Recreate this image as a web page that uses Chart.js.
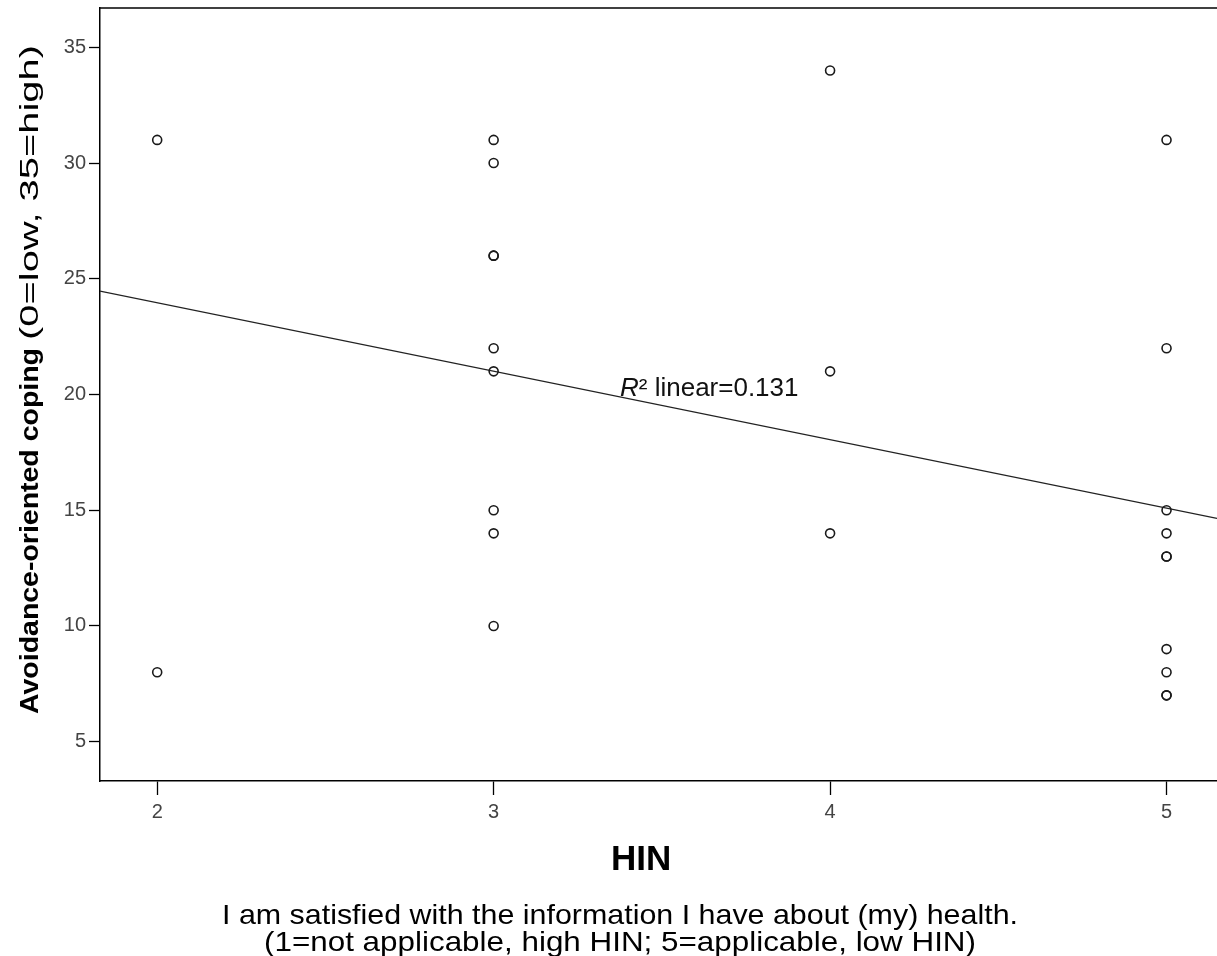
<!DOCTYPE html>
<html>
<head>
<meta charset="utf-8">
<script src="https://cdn.jsdelivr.net/npm/chart.js@4.4.1/dist/chart.umd.min.js"></script>
<style>
  html, body { margin: 0; padding: 0; background: #fff; }
  #wrap { width: 1217px; height: 956px; }
</style>
</head>
<body>
<div id="wrap"><canvas id="myChart" width="1217" height="956"></canvas></div>
<script>
const ctx = document.getElementById("myChart")

// one entry per respondent
const hin = [2, 2, 3, 3, 3, 3, 3, 3, 3, 3, 3, 4, 4, 4, 5, 5, 5, 5, 5, 5, 5, 5, 5, 5]
const coping = [31, 8, 31, 30, 26, 26, 22, 21, 15, 14, 10, 34, 21, 14, 31, 22, 15, 14, 13, 13, 9, 8, 7, 7]

const xTicks = [2, 3, 4, 5]
const yTicks = [5, 10, 15, 20, 25, 30, 35]
const xRange = [1.83, 5.15]
const yRange = [3.3, 36.7]

const FONT = "'Liberation Sans', Arial, sans-serif"

// least squares fit
const n = hin.length
const mx = hin.reduce((a, b) => a + b, 0) / n
const my = coping.reduce((a, b) => a + b, 0) / n
let sxy = 0, sxx = 0, syy = 0
for (let i = 0; i < n; i++) {
  sxy += (hin[i] - mx) * (coping[i] - my)
  sxx += (hin[i] - mx) ** 2
  syy += (coping[i] - my) ** 2
}
const slope = sxy / sxx
const intercept = my - slope * mx
const r2 = (sxy * sxy) / (sxx * syy)

const points = hin.map((x, i) => ({ x, y: coping[i] }))
const fitLine = xRange.map(x => ({ x, y: intercept + slope * x }))

// draws text squeezed/stretched to a given width
function fitText(c, text, font, x, y, width) {
  c.font = font
  const w = c.measureText(text).width
  c.save()
  c.translate(x, y)
  c.scale(width / w, 1)
  c.fillText(text, 0, 0)
  c.restore()
}

const labels = {
  id: 'labels',
  afterDraw(chart) {
    const c = chart.ctx
    const area = chart.chartArea
    c.save()

    // top edge of the frame
    c.strokeStyle = '#000'
    c.lineWidth = 1.5
    c.beginPath()
    c.moveTo(area.left, area.top)
    c.lineTo(chart.width, area.top)
    c.stroke()

    c.fillStyle = '#111'
    c.textAlign = 'left'
    c.textBaseline = 'alphabetic'

    // fit annotation
    c.font = 'italic 26px ' + FONT
    c.fillText('R', 620, 396)
    const rw = c.measureText('R').width
    c.font = '26px ' + FONT
    c.fillText('\u00b2 linear=' + r2.toFixed(3), 620 + rw, 396)

    // y title, bold part then plain part
    c.fillStyle = '#000'
    c.save()
    c.translate(38, 714)
    c.rotate(-Math.PI / 2)
    fitText(c, 'Avoidance-oriented coping', 'bold 26px ' + FONT, 0, 0, 366)
    fitText(c, '(0=low, 35=high)', '26px ' + FONT, 374, 0, 295)
    c.restore()

    // x titles
    c.font = 'bold 35px ' + FONT
    c.fillText('HIN', 611, 870)
    fitText(c, 'I am satisfied with the information I have about (my) health.', '28px ' + FONT, 222, 924, 796)
    fitText(c, '(1=not applicable, high HIN; 5=applicable, low HIN)', '28px ' + FONT, 264, 951, 712)

    c.restore()
  }
}

const tickFont = { family: FONT, size: 20 }

// keep the plot frame exactly where afterFit puts it
function noPadding(scale) {
  scale.paddingLeft = 0
  scale.paddingRight = 0
  scale.paddingTop = 0
  scale.paddingBottom = 0
}

const config = {
  type: 'scatter',
  data: {
    datasets: [
      {
        data: points,
        pointStyle: 'circle',
        pointRadius: 4.5,
        pointBorderWidth: 1.6,
        pointBorderColor: '#1a1a1a',
        pointBackgroundColor: 'rgba(255,255,255,0)'
      },
      {
        type: 'line',
        data: fitLine,
        borderColor: '#222',
        borderWidth: 1.4,
        pointRadius: 0,
        fill: false
      }
    ]
  },
  options: {
    responsive: false,
    animation: false,
    devicePixelRatio: 1,
    layout: { autoPadding: false, padding: { top: 8, left: 0, right: 0, bottom: 0 } },
    plugins: {
      legend: { display: false },
      tooltip: { enabled: false }
    },
    scales: {
      x: {
        type: 'linear',
        min: xRange[0],
        max: xRange[1],
        afterBuildTicks(scale) { scale.ticks = xTicks.map(v => ({ value: v })) },
        afterFit(scale) { scale.height = 175; noPadding(scale) },
        ticks: { font: tickFont, color: '#444', padding: 5 },
        grid: { drawOnChartArea: false, drawTicks: true, tickLength: 14, color: '#000', tickWidth: 1.3 },
        border: { display: true, color: '#000', width: 1.5 }
      },
      y: {
        type: 'linear',
        min: yRange[0],
        max: yRange[1],
        afterBuildTicks(scale) { scale.ticks = yTicks.map(v => ({ value: v })) },
        afterFit(scale) { scale.width = 100; noPadding(scale) },
        ticks: { font: tickFont, color: '#444', padding: 3 },
        grid: { drawOnChartArea: false, drawTicks: true, tickLength: 11, color: '#000', tickWidth: 1.3 },
        border: { display: true, color: '#000', width: 1.5 }
      }
    }
  },
  plugins: [labels]
}

const myChart = new Chart(ctx, config)
</script>
</body>
</html>
